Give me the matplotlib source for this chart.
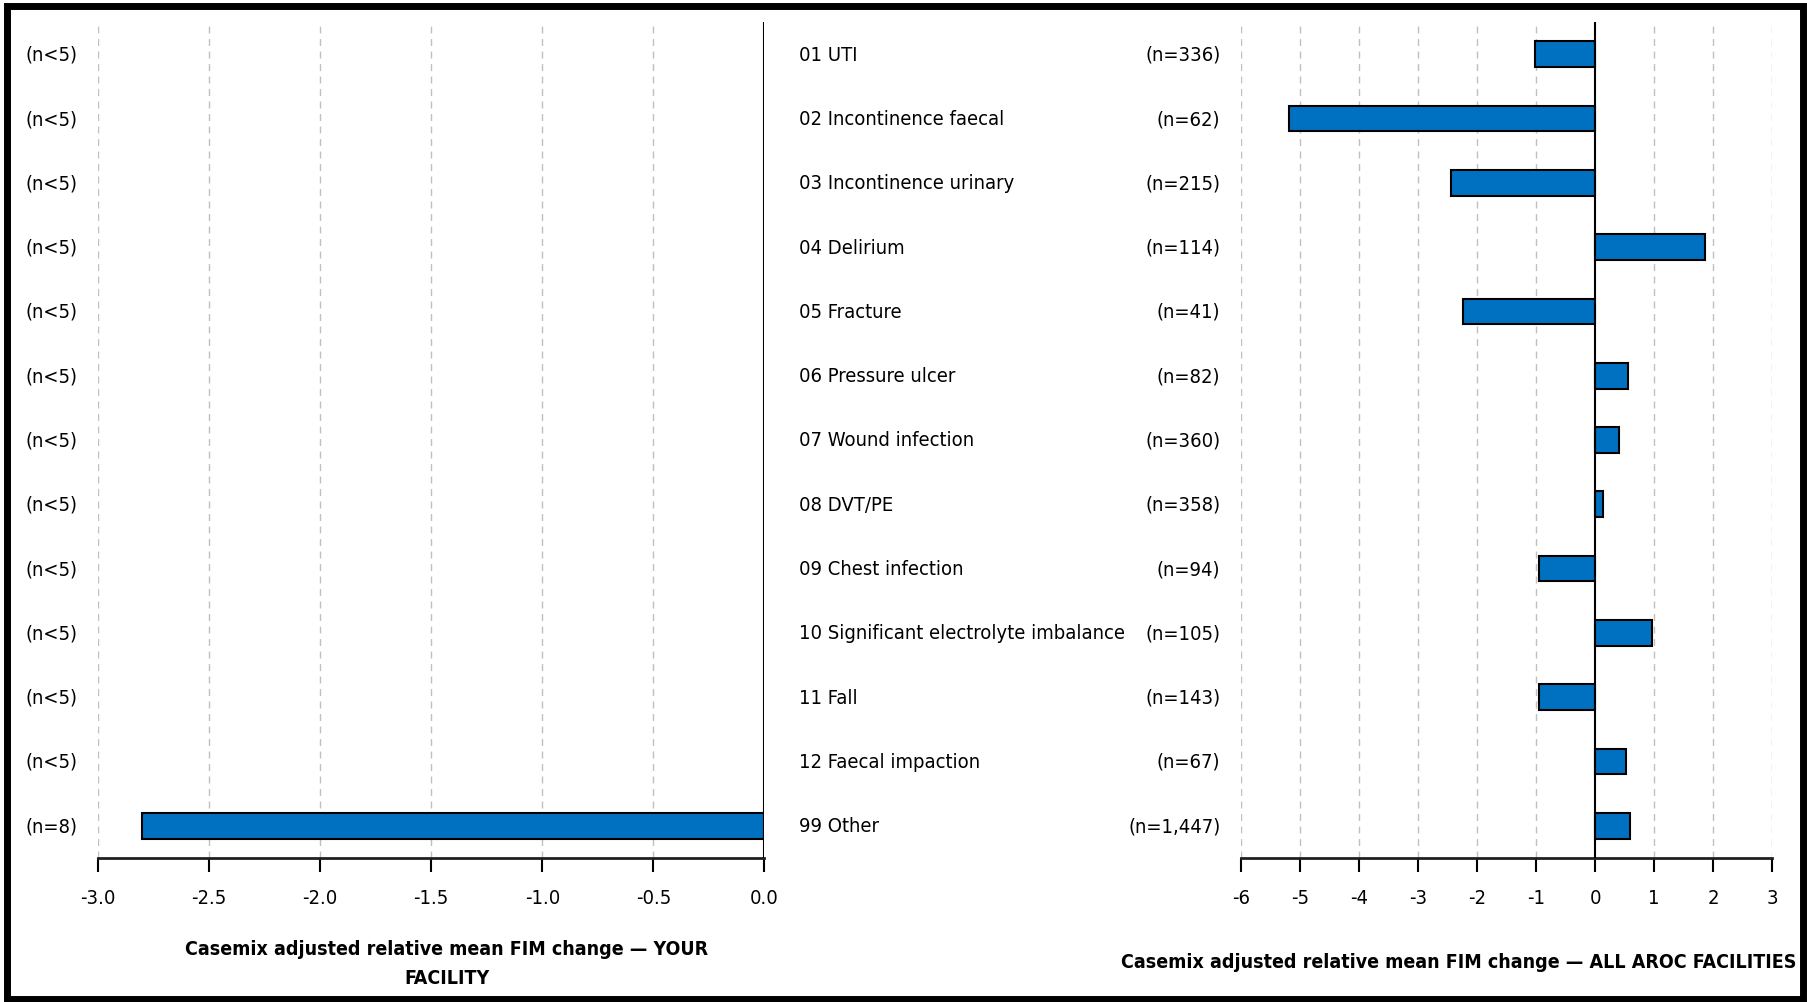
import matplotlib
matplotlib.use("Agg")
import matplotlib.pyplot as plt
from matplotlib import font_manager as fm
from matplotlib.patches import Rectangle

# Data
facility_labels = ["(n<5)"] * 12 + ["(n=8)"]
facility_values = [None] * 12 + [-2.8]

categories = ["01 UTI", "02 Incontinence faecal", "03 Incontinence urinary", "04 Delirium",
              "05 Fracture", "06 Pressure ulcer", "07 Wound infection", "08 DVT/PE",
              "09 Chest infection", "10 Significant electrolyte imbalance", "11 Fall",
              "12 Faecal impaction", "99 Other"]
all_counts = ["(n=336)", "(n=62)", "(n=215)", "(n=114)", "(n=41)", "(n=82)", "(n=360)",
              "(n=358)", "(n=94)", "(n=105)", "(n=143)", "(n=67)", "(n=1,447)"]
all_values = [-1.02, -5.18, -2.44, 1.86, -2.23, 0.55, 0.41, 0.14, -0.94, 0.96, -0.94, 0.53, 0.6]

left_ticks = [-3.0, -2.5, -2.0, -1.5, -1.0, -0.5, 0.0]
right_ticks = [-6, -5, -4, -3, -2, -1, 0, 1, 2, 3]

# look for a narrow / condensed face, the original uses Arial Narrow
reg_file, bold_file = None, None
for f in fm.fontManager.ttflist:
    name = f.fname.lower()
    if ("narrow" in name or "condensed" in name) and "oblique" not in name and "italic" not in name:
        if f.weight in ("bold", 700) or "bold" in name:
            bold_file = bold_file or f.fname
        else:
            reg_file = reg_file or f.fname

if reg_file:
    FS, FSB = 14.5, 14
    font_reg = fm.FontProperties(fname=reg_file, size=FS)
    font_bold = fm.FontProperties(fname=bold_file or reg_file, size=FSB, weight="bold")
else:
    FS, FSB = 13, 12.5
    font_reg = fm.FontProperties(family="Liberation Sans", size=FS)
    font_bold = fm.FontProperties(family="Liberation Sans", size=FSB, weight="bold")

BAR_COLOR = "#0070C0"

fig = plt.figure(figsize=(18.08, 10.03), dpi=100)

# outer frame
fig.patches.append(Rectangle((0.004, 0.003), 0.993, 0.99, transform=fig.transFigure,
                             fill=False, edgecolor="black", linewidth=5))

def style_axis(ax, ticks, xmin, xmax, fmt):
    n = len(categories)
    ax.set_ylim(n - 0.5, -0.5)
    ax.set_xlim(xmin, xmax)
    ax.set_yticks([])
    for s in ["left", "right", "top"]:
        ax.spines[s].set_visible(False)
    ax.spines["bottom"].set_linewidth(2)
    ax.spines["bottom"].set_color("#202020")
    ax.set_xticks(ticks)
    ax.set_xticklabels([fmt(t) for t in ticks], fontproperties=font_reg)
    ax.tick_params(axis="x", direction="out", length=10, width=1.5, pad=12)
    for t in ticks:
        if t != 0:
            ax.axvline(t, color="#c0c0c0", linestyle=(0, (5, 4)), linewidth=1, zorder=0)
    ax.axvline(0, color="black", linewidth=1.5, zorder=3)

# left panel: your facility
axl = fig.add_axes([0.0542, 0.1437, 0.3686, 0.8333])
for i, v in enumerate(facility_values):
    if v is not None:
        axl.barh(i, v, height=0.4, color=BAR_COLOR, edgecolor="black", linewidth=1.5, zorder=2)
style_axis(axl, left_ticks, -3.0, 0.0, lambda t: f"{t:.1f}")

# right panel: all facilities
axr = fig.add_axes([0.6862, 0.1437, 0.2940, 0.8333])
for i, v in enumerate(all_values):
    axr.barh(i, v, height=0.4, color=BAR_COLOR, edgecolor="black", linewidth=1.5, zorder=2)
style_axis(axr, right_ticks, -6, 3, lambda t: f"{t:d}")

# row labels in figure coordinates (row centres taken from axes transform)
def row_y(ax, i):
    disp = ax.transData.transform((0, i))
    return fig.transFigure.inverted().transform(disp)[1]

for i, lab in enumerate(facility_labels):
    fig.text(0.014, row_y(axl, i), lab, fontproperties=font_reg, ha="left", va="center")
for i, (cat, cnt) in enumerate(zip(categories, all_counts)):
    fig.text(0.442, row_y(axr, i), cat, fontproperties=font_reg, ha="left", va="center")
    fig.text(0.675, row_y(axr, i), cnt, fontproperties=font_reg, ha="right", va="center")

fig.text(0.247, 0.039, "Casemix adjusted relative mean FIM change \u2014 YOUR\nFACILITY",
         fontproperties=font_bold, ha="center", va="center", linespacing=1.65)
fig.text(0.807, 0.040, "Casemix adjusted relative mean FIM change \u2014 ALL AROC FACILITIES",
         fontproperties=font_bold, ha="center", va="center")

fig.savefig("out.png", dpi=100)
